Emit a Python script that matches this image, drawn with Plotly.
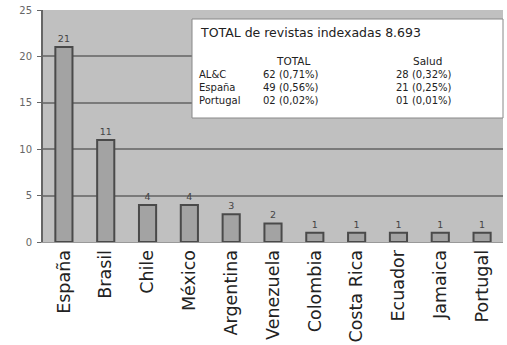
import plotly.graph_objects as go

countries = ["España", "Brasil", "Chile", "México", "Argentina", "Venezuela",
             "Colombia", "Costa Rica", "Ecuador", "Jamaica", "Portugal"]
values = [21, 11, 4, 4, 3, 2, 1, 1, 1, 1, 1]

box_title = "TOTAL de revistas indexadas 8.693"
row_names = ["AL&C", "España", "Portugal"]
total_col = ["62 (0,71%)", "49 (0,56%)", "02 (0,02%)"]
salud_col = ["28 (0,32%)", "21 (0,25%)", "01 (0,01%)"]
col_headers = ["TOTAL", "Salud"]

FONT = "DejaVu Sans"

fig = go.Figure(go.Bar(
    x=countries, y=values,
    marker=dict(color="#a3a3a3", line=dict(color="#4a4a4a", width=2)),
    text=[str(v) for v in values], textposition="outside",
    textfont=dict(size=9.5, color="#444", family=FONT),
    cliponaxis=False,
))

W, H = 507, 345
L, R, T, B = 43, 4, 10, 103
pw, ph = W - L - R, H - T - B

def px(x):
    return (x - L) / pw

def py(y):
    return (H - B - y) / ph

fig.update_layout(
    width=W, height=H,
    margin=dict(l=L, r=R, t=T, b=B, autoexpand=False),
    paper_bgcolor="white", plot_bgcolor="#c0c0c0",
    bargap=0.59, showlegend=False,
    font=dict(family=FONT, color="#222"),
)
fig.update_yaxes(range=[0, 25], dtick=5, ticks="outside", ticklen=4, tickcolor="#666",
                 tickfont=dict(size=10, color="#666", family=FONT), ticklabelstandoff=3,
                 showline=True, linecolor="#666", linewidth=2, automargin=False,
                 gridcolor="#7a7a7a", gridwidth=1.5, zeroline=False)
fig.update_xaxes(tickangle=-90, tickfont=dict(size=17.5, color="#222", family=FONT), showline=True,
                 linecolor="#999", linewidth=1, ticks="", automargin=False)

# legend-like box
fig.add_shape(type="rect", xref="paper", yref="paper",
              x0=px(192), x1=px(503), y0=py(118), y1=py(19),
              fillcolor="white", line=dict(color="#888", width=1), layer="above")

anns = []
anns.append(dict(x=px(198), y=py(32), text=box_title, xanchor="left", align="left", size=12.5))
anns.append(dict(x=px(293), y=py(61), text=col_headers[0], xanchor="center", align="center", size=10.5))
anns.append(dict(x=px(427), y=py(61), text=col_headers[1], xanchor="center", align="center", size=10.5))
rows_mid = 88
anns.append(dict(x=px(197), y=py(rows_mid), text="<br>".join(row_names), xanchor="left", align="left", size=10))
anns.append(dict(x=px(261), y=py(rows_mid), text="<br>".join(total_col), xanchor="left", align="left", size=10))
anns.append(dict(x=px(394), y=py(rows_mid), text="<br>".join(salud_col), xanchor="left", align="left", size=10))
for a in anns:
    fig.add_annotation(x=a["x"], y=a["y"], xref="paper", yref="paper", text=a["text"],
                       xanchor=a["xanchor"], yanchor="middle", align=a["align"], showarrow=False,
                       font=dict(size=a["size"], color="#222", family=FONT))

fig.write_html("out.html", config={"displayModeBar": False},
               post_script="document.body.style.margin='0';")
